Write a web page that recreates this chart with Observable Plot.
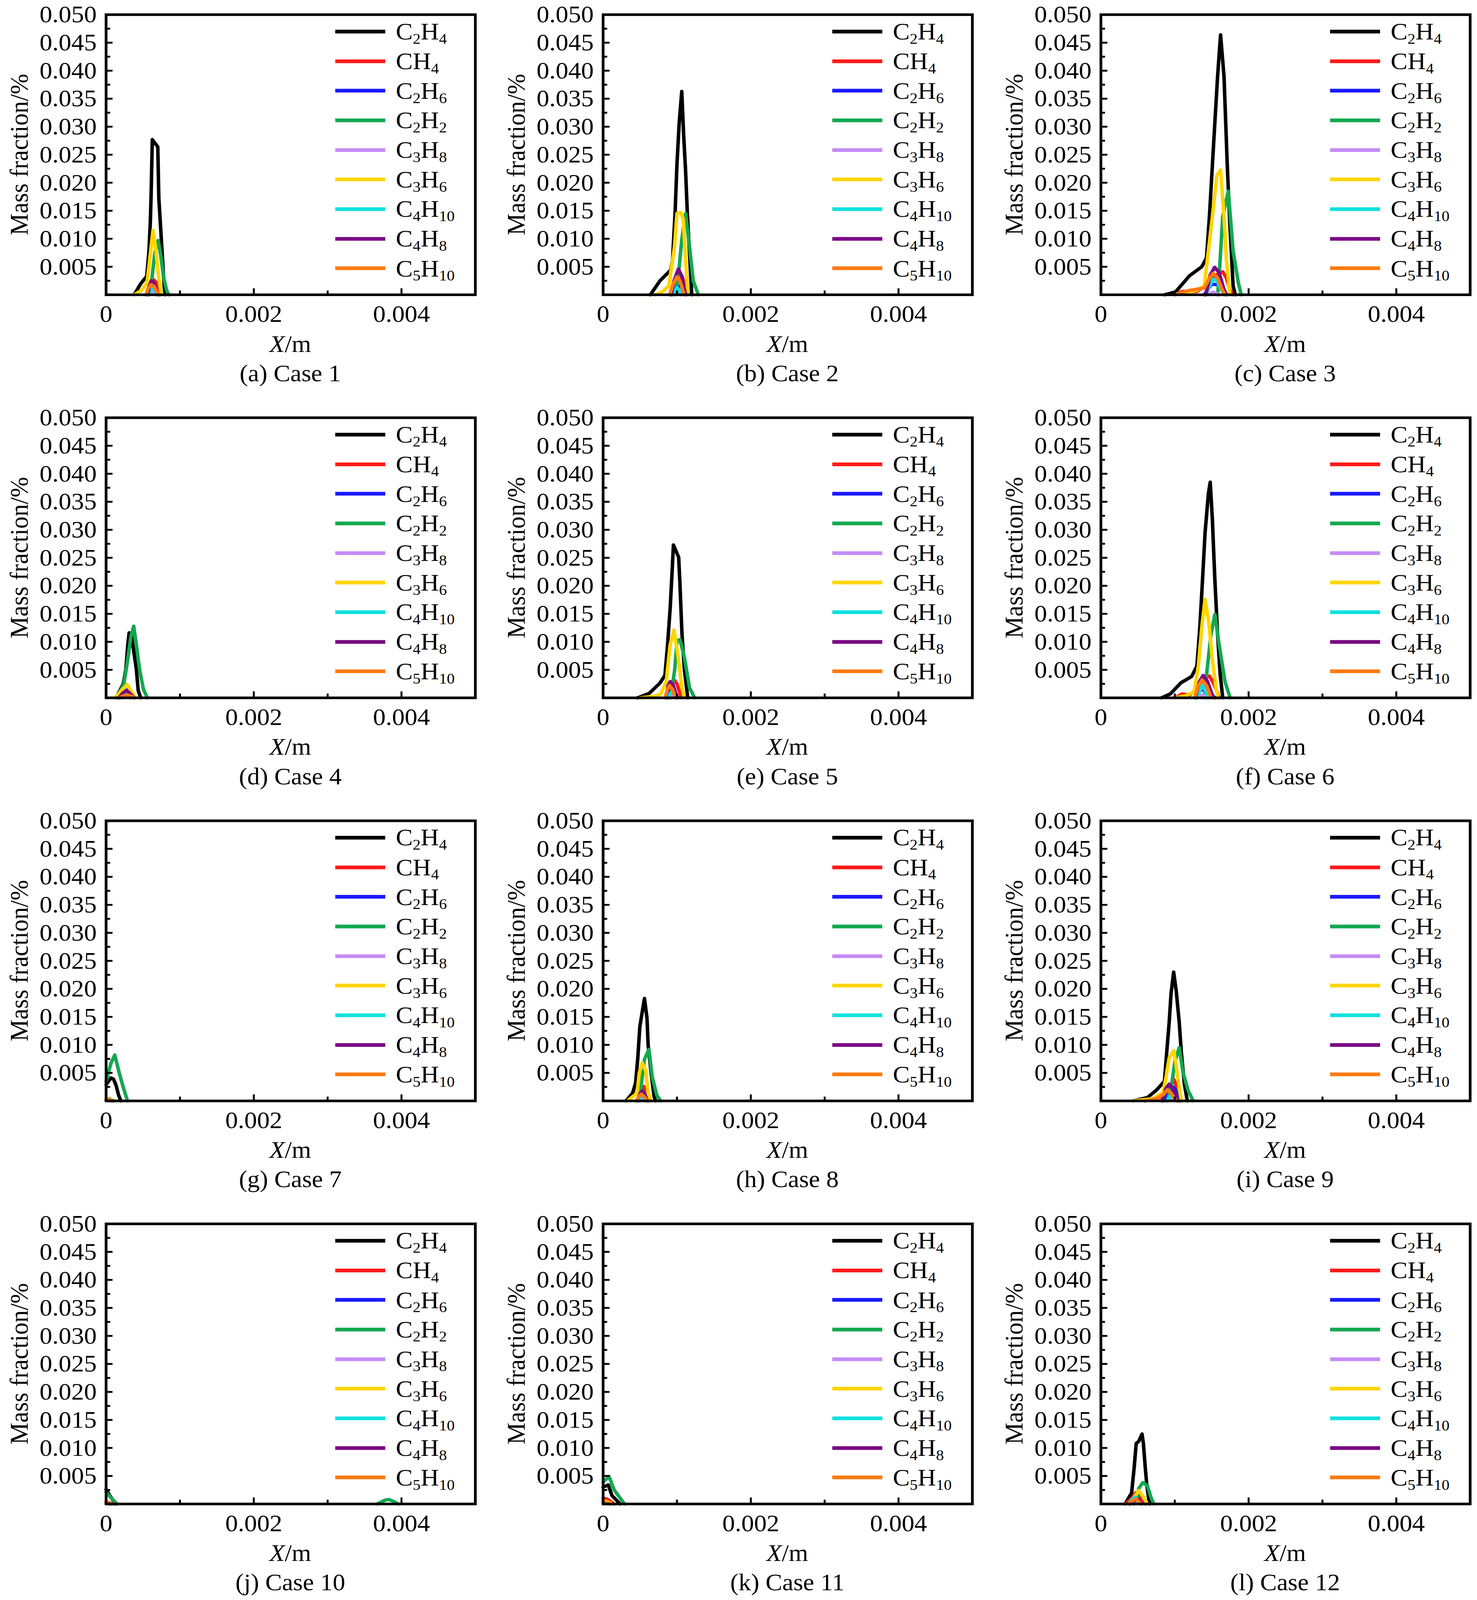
<!DOCTYPE html>
<html><head><meta charset="utf-8">
<script src="https://cdn.jsdelivr.net/npm/d3@7"></script>
<script src="https://cdn.jsdelivr.net/npm/@observablehq/plot@0.6"></script>
<style>
html,body{margin:0;padding:0;background:#fff;overflow:hidden;}
#root{position:absolute;left:0;top:0;width:3780px;height:4307px;font-family:"Liberation Serif","Times New Roman",serif;color:#000;background:#fff;transform-origin:0 0;}
.panel{position:absolute;width:1260px;height:1085px;}
.panel svg{position:absolute;left:0;top:0;overflow:visible;}
.ytitle{position:absolute;left:49px;top:416px;transform:translate(-50%,-50%) rotate(-90deg);font-size:66px;white-space:nowrap;line-height:1;}
.xtitle{position:absolute;left:743px;top:926px;transform:translate(-50%,-50%);font-size:64px;white-space:nowrap;line-height:1;}
.caption{position:absolute;left:743px;top:1005px;transform:translate(-50%,-50%);font-size:64px;white-space:nowrap;line-height:1;}
.legend{position:absolute;left:858px;top:45px;}
.lrow{height:79.7px;display:flex;align-items:center;}
.lline{width:128px;height:10px;margin-right:27px;}
.ltext{font-size:65px;line-height:1;white-space:nowrap;}
.ltext sub{font-size:0.62em;vertical-align:-0.28em;line-height:0;}
</style>
</head><body><div id="root"></div>
<script>
// ---- series definitions ----
const species = ["C2H4","CH4","C2H6","C2H2","C3H8","C3H6","C4H10","C4H8","C5H10"];
const colors  = ["#000000","#ff1a1a","#1a1aff","#14a850","#c58cf5","#ffd500","#10e0e0","#7a0a84","#ff7a10"];
const captions = ["(a) Case 1","(b) Case 2","(c) Case 3","(d) Case 4","(e) Case 5","(f) Case 6",
                  "(g) Case 7","(h) Case 8","(i) Case 9","(j) Case 10","(k) Case 11","(l) Case 12"];
const yTicksMajor = [0.005,0.010,0.015,0.020,0.025,0.030,0.035,0.040,0.045,0.050];
const yTicksMinor = [0.0025,0.0075,0.0125,0.0175,0.0225,0.0275,0.0325,0.0375,0.0425,0.0475];
const xTicksLabeled = [0,0.002,0.004];
const xTicksMajor = [0.002,0.004];
const xTicksMinor = [0.001,0.003];

// points: [x in mm, mass fraction]
const case1 = [
 ["C2H4",[[0.38,0],[0.47,0.002],[0.55,0.0033],[0.58,0.0077],[0.60,0.0133],[0.61,0.018],[0.626,0.0277],[0.70,0.0264],[0.714,0.0173],[0.75,0.0095],[0.785,0.0018],[0.80,0]]],
 ["CH4",[[0.55,0],[0.58,0.0015],[0.61,0.0025],[0.64,0.0027],[0.68,0.0022],[0.71,0.001],[0.73,0]]],
 ["C2H6",[[0.55,0],[0.58,0.0015],[0.615,0.0024],[0.65,0.0018],[0.69,0.0005],[0.71,0]]],
 ["C2H2",[[0.58,0],[0.61,0.0015],[0.63,0.004],[0.66,0.0075],[0.705,0.0097],[0.74,0.007],[0.78,0.003],[0.82,0.0008],[0.85,0]]],
 ["C3H8",[[0.58,0],[0.62,0.0005],[0.66,0.0005],[0.70,0]]],
 ["C3H6",[[0.38,0],[0.48,0.0008],[0.555,0.0022],[0.59,0.0062],[0.635,0.0115],[0.67,0.0084],[0.714,0.0029],[0.75,0]]],
 ["C4H10",[[0.58,0],[0.61,0.0008],[0.63,0.0013],[0.66,0.001],[0.69,0]]],
 ["C4H8",[[0.56,0],[0.59,0.0016],[0.615,0.0025],[0.645,0.0022],[0.68,0.0008],[0.70,0]]],
 ["C5H10",[[0.54,0],[0.57,0.0012],[0.61,0.0018],[0.65,0.0015],[0.69,0.0004],[0.71,0]]]
];
const case2 = [
 ["C2H4",[[0.64,0],[0.77,0.0025],[0.915,0.0044],[0.94,0.0062],[0.975,0.0147],[1.0,0.0233],[1.03,0.0306],[1.065,0.0363],[1.09,0.0287],[1.117,0.0221],[1.14,0.0147],[1.17,0.0074],[1.2,0]]],
 ["CH4",[[0.93,0],[0.98,0.0025],[1.03,0.0037],[1.07,0.0033],[1.11,0.0015],[1.14,0]]],
 ["C2H6",[[0.93,0],[0.97,0.0012],[0.99,0.002],[1.02,0.0015],[1.05,0]]],
 ["C2H2",[[0.98,0],[1.03,0.0049],[1.065,0.0098],[1.117,0.0145],[1.17,0.0086],[1.22,0.0025],[1.29,0]]],
 ["C3H8",[[0.95,0],[1.0,0.0005],[1.05,0]]],
 ["C3H6",[[0.70,0],[0.80,0.0005],[0.89,0.0016],[0.967,0.0086],[1.0,0.0145],[1.05,0.0147],[1.085,0.0135],[1.117,0.0062],[1.15,0]]],
 ["C4H10",[[0.95,0],[0.98,0.0008],[1.0,0.0013],[1.03,0.0009],[1.06,0]]],
 ["C4H8",[[0.92,0],[0.96,0.0025],[1.02,0.0046],[1.06,0.0035],[1.1,0.001],[1.12,0]]],
 ["C5H10",[[0.90,0],[0.95,0.002],[1.0,0.0032],[1.04,0.0025],[1.08,0.0008],[1.1,0]]]
];
const case3 = [
 ["C2H4",[[0.86,0],[1.01,0.0005],[1.2,0.0034],[1.366,0.005],[1.43,0.0066],[1.47,0.0141],[1.525,0.0267],[1.58,0.039],[1.62,0.0464],[1.667,0.039],[1.71,0.0235],[1.746,0.0125],[1.79,0.0016],[1.82,0]]],
 ["CH4",[[1.0,0],[1.1,0.0006],[1.3,0.0006],[1.45,0.002],[1.55,0.0035],[1.65,0.0041],[1.7,0.003],[1.75,0.0008],[1.78,0]]],
 ["C2H6",[[1.4,0],[1.45,0.001],[1.5,0.0019],[1.58,0.0018],[1.65,0.001],[1.7,0]]],
 ["C2H2",[[1.58,0],[1.6,0.003],[1.61,0.0053],[1.65,0.014],[1.725,0.0185],[1.79,0.0078],[1.86,0.0022],[1.9,0]]],
 ["C3H8",[[1.45,0],[1.52,0.0005],[1.6,0]]],
 ["C3H6",[[1.0,0],[1.15,0.0004],[1.3,0.0008],[1.4,0.0016],[1.455,0.0078],[1.51,0.014],[1.57,0.0213],[1.62,0.0223],[1.667,0.014],[1.7,0.0063],[1.746,0]]],
 ["C4H10",[[1.42,0],[1.47,0.0015],[1.52,0.0028],[1.57,0.0025],[1.63,0.001],[1.67,0]]],
 ["C4H8",[[1.42,0],[1.48,0.0035],[1.54,0.0049],[1.6,0.004],[1.66,0.0012],[1.7,0]]],
 ["C5H10",[[1.0,0],[1.2,0.0008],[1.4,0.0012],[1.47,0.003],[1.52,0.0038],[1.58,0.003],[1.64,0.001],[1.68,0]]]
];
const case4 = [
 ["C2H4",[[0.135,0],[0.233,0.0025],[0.268,0.0051],[0.294,0.0095],[0.312,0.0116],[0.338,0.0115],[0.374,0.0084],[0.41,0.0051],[0.435,0.0013],[0.47,0]]],
 ["CH4",[[0.18,0],[0.23,0.0007],[0.28,0.001],[0.33,0.0006],[0.37,0]]],
 ["C2H6",[[0.17,0],[0.23,0.001],[0.28,0.0014],[0.33,0.0008],[0.38,0]]],
 ["C2H2",[[0.14,0],[0.24,0.0024],[0.294,0.0069],[0.338,0.0111],[0.374,0.0128],[0.41,0.0095],[0.453,0.0051],[0.506,0.0015],[0.56,0]]],
 ["C3H8",[[0.22,0],[0.28,0.0002],[0.33,0]]],
 ["C3H6",[[0.12,0],[0.2,0.0012],[0.285,0.0024],[0.34,0.0012],[0.4,0]]],
 ["C4H10",[[0.2,0],[0.25,0.0006],[0.29,0.0009],[0.33,0.0005],[0.37,0]]],
 ["C4H8",[[0.17,0],[0.23,0.0009],[0.28,0.0013],[0.33,0.0007],[0.38,0]]],
 ["C5H10",[[0.18,0],[0.24,0.0004],[0.29,0.0005],[0.34,0.0003],[0.38,0]]]
];
const case5 = [
 ["C2H4",[[0.466,0],[0.624,0.0008],[0.767,0.0026],[0.837,0.004],[0.873,0.0095],[0.908,0.016],[0.935,0.0227],[0.952,0.0273],[1.023,0.0251],[1.04,0.0205],[1.067,0.0117],[1.1,0.0051],[1.146,0]]],
 ["CH4",[[0.88,0],[0.92,0.0018],[0.97,0.0031],[1.0,0.0025],[1.04,0.0008],[1.06,0]]],
 ["C2H6",[[0.86,0],[0.89,0.0012],[0.92,0.0018],[0.96,0.0012],[1.0,0]]],
 ["C2H2",[[0.92,0],[0.935,0.0018],[0.97,0.0051],[1.0,0.0102],[1.04,0.0104],[1.1,0.0073],[1.17,0.0018],[1.24,0]]],
 ["C3H8",[[0.9,0],[0.95,0.0004],[1.0,0]]],
 ["C3H6",[[0.5,0],[0.7,0.0003],[0.78,0.0007],[0.855,0.0029],[0.908,0.0095],[0.96,0.0121],[1.016,0.0073],[1.067,0.0018],[1.1,0]]],
 ["C4H10",[[0.88,0],[0.91,0.0008],[0.935,0.0011],[0.97,0.0006],[1.0,0]]],
 ["C4H8",[[0.85,0],[0.88,0.0022],[0.908,0.0029],[0.95,0.0022],[0.99,0.0005],[1.01,0]]],
 ["C5H10",[[0.84,0],[0.87,0.0015],[0.9,0.0022],[0.94,0.0015],[0.98,0]]]
];
const case6 = [
 ["C2H4",[[0.82,0],[0.94,0.0007],[1.085,0.0027],[1.228,0.0038],[1.3,0.0057],[1.34,0.0127],[1.376,0.0211],[1.41,0.0294],[1.455,0.0364],[1.48,0.0385],[1.508,0.0322],[1.543,0.0211],[1.58,0.0113],[1.614,0.0043],[1.65,0]]],
 ["CH4",[[1.0,0],[1.1,0.0007],[1.2,0.0005],[1.3,0.0015],[1.38,0.0033],[1.47,0.0039],[1.53,0.0025],[1.58,0.0008],[1.6,0]]],
 ["C2H6",[[1.28,0],[1.32,0.001],[1.36,0.0015],[1.42,0.0012],[1.5,0.0005],[1.55,0]]],
 ["C2H2",[[1.4,0],[1.42,0.0029],[1.437,0.0049],[1.49,0.0113],[1.543,0.0149],[1.596,0.0099],[1.68,0.0029],[1.75,0]]],
 ["C3H8",[[1.3,0],[1.38,0.0005],[1.45,0]]],
 ["C3H6",[[1.0,0],[1.15,0.0004],[1.26,0.001],[1.32,0.0057],[1.367,0.0127],[1.41,0.0176],[1.455,0.0141],[1.508,0.0071],[1.56,0.0015],[1.59,0]]],
 ["C4H10",[[1.3,0],[1.34,0.0012],[1.37,0.0022],[1.41,0.0015],[1.45,0]]],
 ["C4H8",[[1.28,0],[1.33,0.0028],[1.385,0.004],[1.44,0.003],[1.5,0.0008],[1.53,0]]],
 ["C5H10",[[1.27,0],[1.32,0.0022],[1.37,0.0032],[1.43,0.0022],[1.49,0]]]
];
const case7 = [
 ["C2H4",[[0,0.0029],[0.065,0.0041],[0.1,0.0039],[0.135,0.0028],[0.17,0.001],[0.2,0]]],
 ["CH4",[[0,0.0003],[0.05,0.0004],[0.1,0]]],
 ["C2H6",[[0,0.0002],[0.04,0.0002],[0.08,0]]],
 ["C2H2",[[0,0.0035],[0.065,0.0067],[0.118,0.0082],[0.17,0.0054],[0.224,0.0028],[0.29,0]]],
 ["C3H8",[[0,0.0001],[0.05,0]]],
 ["C3H6",[[0,0.0004],[0.06,0.0003],[0.12,0]]],
 ["C4H10",[[0,0.0002],[0.05,0.0002],[0.1,0]]],
 ["C4H8",[[0,0.0002],[0.04,0.0002],[0.08,0]]],
 ["C5H10",[[0,0.0002],[0.05,0.0001],[0.09,0]]]
];
const case8 = [
 ["C2H4",[[0.31,0],[0.40,0.0014],[0.44,0.0032],[0.47,0.0077],[0.497,0.0132],[0.53,0.0159],[0.56,0.0183],[0.594,0.0148],[0.61,0.0099],[0.65,0.005],[0.69,0.0008],[0.71,0]]],
 ["CH4",[[0.48,0],[0.52,0.0018],[0.55,0.0026],[0.59,0.0015],[0.62,0]]],
 ["C2H6",[[0.46,0],[0.5,0.0015],[0.52,0.0019],[0.56,0.0012],[0.6,0]]],
 ["C2H2",[[0.49,0],[0.515,0.0028],[0.56,0.0074],[0.62,0.0092],[0.665,0.0043],[0.727,0.001],[0.78,0]]],
 ["C3H8",[[0.48,0],[0.53,0.0003],[0.58,0]]],
 ["C3H6",[[0.33,0],[0.46,0.0014],[0.49,0.005],[0.53,0.0068],[0.577,0.0054],[0.61,0.0014],[0.65,0]]],
 ["C4H10",[[0.48,0],[0.51,0.0007],[0.53,0.001],[0.56,0.0006],[0.59,0]]],
 ["C4H8",[[0.46,0],[0.5,0.0013],[0.525,0.0017],[0.56,0.001],[0.6,0]]],
 ["C5H10",[[0.45,0],[0.49,0.0009],[0.52,0.0012],[0.56,0.0007],[0.6,0]]]
];
const case9 = [
 ["C2H4",[[0.43,0],[0.63,0.0006],[0.75,0.0019],[0.86,0.0035],[0.89,0.0085],[0.925,0.0141],[0.95,0.0192],[0.985,0.023],[1.02,0.0196],[1.06,0.0141],[1.09,0.0085],[1.13,0.003],[1.17,0]]],
 ["CH4",[[0.6,0],[0.7,0.0004],[0.8,0.0006],[0.9,0.0015],[0.95,0.0028],[0.985,0.0039],[1.02,0.0028],[1.06,0.001],[1.09,0]]],
 ["C2H6",[[0.85,0],[0.9,0.0018],[0.95,0.0028],[1.0,0.0022],[1.05,0.0008],[1.08,0]]],
 ["C2H2",[[0.9,0],[0.96,0.003],[1.0,0.007],[1.06,0.0095],[1.11,0.0052],[1.18,0.0019],[1.25,0]]],
 ["C3H8",[[0.9,0],[0.96,0.0004],[1.02,0]]],
 ["C3H6",[[0.43,0],[0.7,0.0004],[0.84,0.0015],[0.88,0.0041],[0.925,0.0077],[0.985,0.009],[1.02,0.0063],[1.06,0.0023],[1.09,0]]],
 ["C4H10",[[0.9,0],[0.94,0.0009],[0.97,0.0014],[1.0,0.0009],[1.04,0]]],
 ["C4H8",[[0.83,0],[0.88,0.0022],[0.925,0.003],[0.97,0.0022],[1.02,0.0006],[1.05,0]]],
 ["C5H10",[[0.6,0],[0.75,0.0004],[0.85,0.0012],[0.9,0.002],[0.95,0.0014],[1.0,0.0003],[1.03,0]]]
];
const case10 = [
 ["C2H4",[[0,0.0026],[0.05,0.0015],[0.13,0]]],
 ["CH4",[[0,0.0004],[0.05,0.0002],[0.1,0]]],
 ["C2H6",[[0,0.0002],[0.06,0]]],
 ["C2H2",[[0,0.0021],[0.06,0.0012],[0.15,0],[2.0,null],[3.67,0],[3.78,0.0007],[3.83,0.0008],[3.9,0.0004],[3.96,0]]],
 ["C3H8",[[0,0.0001],[0.05,0]]],
 ["C3H6",[[0,0.0003],[0.07,0]]],
 ["C4H10",[[0,0.0002],[0.06,0]]],
 ["C4H8",[[0,0.0002],[0.06,0]]],
 ["C5H10",[[0,0.0002],[0.06,0]]]
];
const case11 = [
 ["C2H4",[[0,0.003],[0.07,0.0034],[0.12,0.0015],[0.23,0]]],
 ["CH4",[[0,0.001],[0.05,0.0009],[0.15,0]]],
 ["C2H6",[[0,0.0003],[0.05,0.0002],[0.1,0]]],
 ["C2H2",[[0,0.0039],[0.08,0.0049],[0.15,0.0025],[0.29,0]]],
 ["C3H8",[[0,0.0001],[0.06,0]]],
 ["C3H6",[[0,0.0005],[0.06,0.0004],[0.12,0]]],
 ["C4H10",[[0,0.0003],[0.05,0.0002],[0.1,0]]],
 ["C4H8",[[0,0.0003],[0.05,0.0002],[0.1,0]]],
 ["C5H10",[[0,0.0002],[0.05,0.0002],[0.1,0]]]
];
const case12 = [
 ["C2H4",[[0.328,0],[0.416,0.002],[0.451,0.0066],[0.478,0.0108],[0.513,0.0112],[0.557,0.0125],[0.575,0.0108],[0.6,0.0066],[0.619,0.0037],[0.645,0.0011],[0.663,0]]],
 ["CH4",[[0.33,0],[0.42,0.001],[0.47,0.002],[0.54,0.0012],[0.6,0]]],
 ["C2H6",[[0.4,0],[0.45,0.0008],[0.5,0.001],[0.55,0]]],
 ["C2H2",[[0.45,0],[0.49,0.0011],[0.513,0.0028],[0.566,0.0038],[0.628,0.0033],[0.68,0.0011],[0.716,0]]],
 ["C3H8",[[0.44,0],[0.5,0.0002],[0.55,0]]],
 ["C3H6",[[0.38,0],[0.45,0.0012],[0.513,0.0024],[0.56,0.0015],[0.63,0]]],
 ["C4H10",[[0.38,0],[0.42,0.0008],[0.46,0.0012],[0.5,0.0006],[0.54,0]]],
 ["C4H8",[[0.4,0],[0.46,0.0007],[0.5,0.0008],[0.55,0]]],
 ["C5H10",[[0.38,0],[0.44,0.0007],[0.48,0.0009],[0.54,0]]]
];
const allCases = [case1,case2,case3,case4,case5,case6,case7,case8,case9,case10,case11,case12];

// ---- layout ----
const colLeft = [0,1272,2546];
const rowTop = [0,1085,2170,3255];
const root = document.getElementById("root");
const fmt3 = d3.format(".3f");
const subHTML = s => s.replace(/(\d+)/g, "<sub>$1</sub>");

allCases.forEach((cs, i) => {
  const panel = document.createElement("div");
  panel.className = "panel";
  panel.style.left = colLeft[i % 3] + "px";
  panel.style.top = rowTop[Math.floor(i / 3)] + "px";

  const lineMarks = cs.map(([name, pts]) =>
    Plot.line(pts.map(([x, y]) => ({x: x / 1000, y, s: name})), {
      x: "x", y: "y", stroke: "s", strokeWidth: 9,
      strokeLinejoin: "round", strokeLinecap: "round"
    }));

  const svg = Plot.plot({
    width: 1260, height: 900,
    marginLeft: 271, marginRight: 44, marginTop: 39, marginBottom: 107,
    x: {domain: [0, 0.005]},
    y: {domain: [0, 0.05]},
    color: {domain: species, range: colors},
    style: {fontFamily: "'Liberation Serif','Times New Roman',serif", fontSize: "64px", background: "transparent", color: "#000", overflow: "visible"},
    marks: [
      ...lineMarks,
      Plot.axisX({ticks: xTicksLabeled, tickSize: 0, tickPadding: 27, tickFormat: d => d === 0 ? "0" : fmt3(d), label: null, fontSize: 65}),
      Plot.axisX({ticks: xTicksMajor, tickSize: -17, tickFormat: () => "", label: null, strokeWidth: 5}),
      Plot.axisX({ticks: xTicksMinor, tickSize: -11, tickFormat: () => "", label: null, strokeWidth: 5}),
      Plot.axisY({ticks: yTicksMajor, tickSize: 0, tickPadding: 24, tickFormat: fmt3, label: null, fontSize: 65}),
      Plot.axisY({ticks: yTicksMajor, tickSize: -17, tickFormat: () => "", label: null, strokeWidth: 5}),
      Plot.axisY({ticks: yTicksMinor, tickSize: -11, tickFormat: () => "", label: null, strokeWidth: 5}),
      Plot.frame({stroke: "#000", strokeWidth: 7})
    ]
  });
  panel.appendChild(svg);

  const yt = document.createElement("div");
  yt.className = "ytitle"; yt.textContent = "Mass fraction/%";
  panel.appendChild(yt);
  const xt = document.createElement("div");
  xt.className = "xtitle"; xt.innerHTML = "<i>X</i>/m";
  panel.appendChild(xt);
  const cap = document.createElement("div");
  cap.className = "caption"; cap.textContent = captions[i];
  panel.appendChild(cap);

  const lg = document.createElement("div");
  lg.className = "legend";
  species.forEach((s, k) => {
    const row = document.createElement("div");
    row.className = "lrow";
    row.innerHTML = `<div class="lline" style="background:${colors[k]}"></div><span class="ltext">${subHTML(s)}</span>`;
    lg.appendChild(row);
  });
  panel.appendChild(lg);
  root.appendChild(panel);
});

// fit the 3780x4307 figure into the visible viewport
function fitRoot() {
  const vw = Math.min(window.innerWidth || 3780, document.documentElement.clientWidth || 3780,
                      (window.visualViewport && window.visualViewport.width) || 3780);
  const vh = Math.min(window.innerHeight || 4307, document.documentElement.clientHeight || 4307,
                      (window.visualViewport && window.visualViewport.height) || 4307);
  const sx = Math.min(1, vw / 3780), sy = Math.min(1, vh / 4307);
  root.style.transform = `scale(${sx}, ${sy})`;
}
fitRoot();
window.addEventListener("resize", fitRoot);
</script>
</body></html>
